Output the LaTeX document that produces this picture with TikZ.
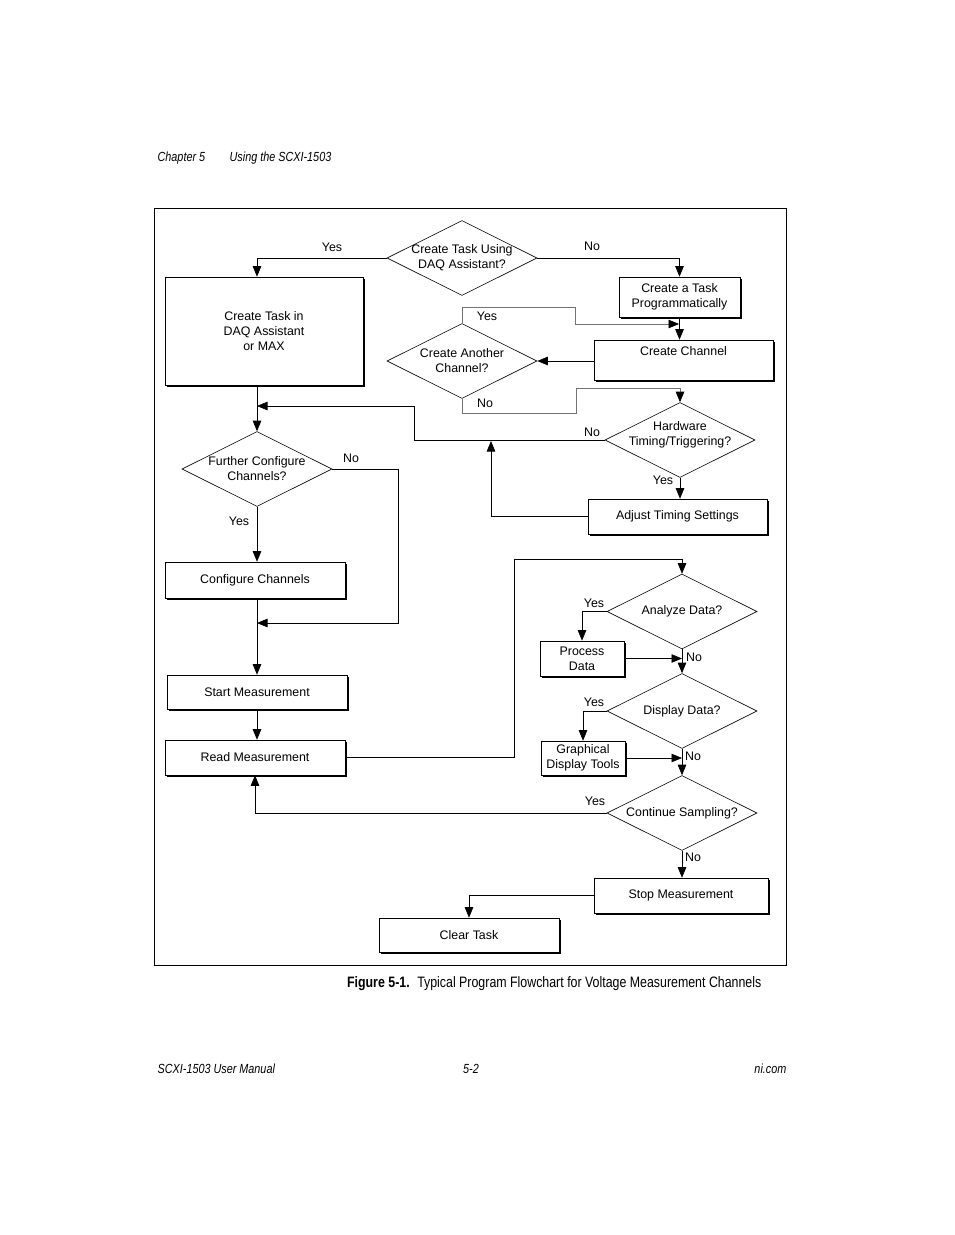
\documentclass[tikz,border=0pt]{standalone}
\usepackage{fontspec}
\setmainfont{Liberation Sans}
\newfontfamily\condfont[FakeStretch=0.82]{Liberation Sans}
\usetikzlibrary{arrows.meta,positioning,calc,shapes.geometric,shadows}

\begin{document}
\begin{tikzpicture}[x=1pt, y=-1pt, line width=0.6pt,
    box/.style={draw, fill=white, align=center, font=\fontsize{12.4}{15}\selectfont,
        general shadow={fill=black, shadow xshift=1.8pt, shadow yshift=-1.8pt}},
    decision/.style={draw, diamond, fill=white, minimum width=150pt, minimum height=75pt, inner sep=0pt},
    dtext/.style={align=center, font=\fontsize{12.4}{15}\selectfont},
    ans/.style={font=\fontsize{12.4}{15}\selectfont, inner sep=1pt},
    pagetext/.style={font=\condfont\itshape\fontsize{13.2}{15}\selectfont},
    flow/.style={-{Triangle[length=10.5pt,width=8.5pt,color=black]}},
    loop/.style={draw=black!55}]
    \useasboundingbox (0,0) rectangle (954,1235);

    % page header, frame, caption and footer
    \node[anchor=base west, pagetext] (chap) at (154,161) {Chapter 5};
    \node[anchor=base west, pagetext] (chaptitle) at (226,161) {Using the SCXI-1503};
    \draw (154,208) rectangle (786,965);
    \node[anchor=base east, font=\condfont\fontsize{15.1}{17}\selectfont] (caption) at (765,987)
        {\textbf{Figure 5-1.}\enspace Typical Program Flowchart for Voltage Measurement Channels};
    \node[anchor=base west, pagetext] (manual) at (154,1073) {SCXI-1503 User Manual};
    \node[anchor=base, pagetext] (pagenum) at (471,1073) {5-2};
    \node[anchor=base east, pagetext] (site) at (790,1073) {ni.com};

    % task creation
    \node[decision, label={[dtext]center:Create Task Using\\DAQ Assistant?}] (usedaq) at (462,258) {};
    \node[box, minimum width=198pt, minimum height=108pt] (daqmax) at (264,331) {Create Task in\\DAQ Assistant\\or MAX};
    \node[box, minimum width=121pt, minimum height=40pt] (progtask) at (679.5,297) {Create a Task\\Programmatically};
    \node[box, minimum width=179pt, minimum height=40pt, text depth=18pt] (mkchan) at (683.5,360) {Create Channel};
    \node[decision, label={[dtext]center:Create Another\\Channel?}] (another) at (462,361) {};
    \node[decision, label={[dtext, yshift=5pt]center:Hardware\\Timing/Triggering?}] (hwtime) at (680,440) {};
    \node[box, minimum width=179pt, minimum height=35pt] (adjtime) at (677.5,516.5) {Adjust Timing Settings};

    % channel configuration and measurement
    \node[decision, label={[dtext]center:Further Configure\\Channels?}] (further) at (257,469) {};
    \node[box, minimum width=180pt, minimum height=36pt] (cfgchan) at (255,580) {Configure Channels};
    \node[box, minimum width=180pt, minimum height=34pt] (startm) at (257,692) {Start Measurement};
    \node[box, minimum width=180pt, minimum height=35pt] (readm) at (255,757.5) {Read Measurement};

    % data handling
    \node[decision, label={[dtext]center:Analyze Data?}] (analyze) at (682,611.5) {};
    \node[box, minimum width=84pt, minimum height=35pt] (procdata) at (582,658.5) {Process\\Data};
    \node[decision, label={[dtext]center:Display Data?}] (display) at (682,711) {};
    \node[box, minimum width=84pt, minimum height=34pt] (graphtools) at (583,758) {Graphical\\Display Tools};
    \node[decision, label={[dtext]center:Continue Sampling?}] (contsamp) at (682,813) {};
    \node[box, minimum width=174pt, minimum height=35pt] (stopm) at (681,895.5) {Stop Measurement};
    \node[box, minimum width=180pt, minimum height=34pt] (cleartask) at (469,935) {Clear Task};

    % join points on lines
    \coordinate (joinA) at (679,324);
    \coordinate (joinB) at (257,406);
    \coordinate (joinC) at (491,441);
    \coordinate (joinD) at (257,623);

    % connectors
    \draw[flow] (usedaq.west) -| (further.north |- daqmax.north);
    \node[ans] (yes1) at (332,247) {Yes};
    \draw[flow] (usedaq.east) -| (progtask.north);
    \node[ans] (no1) at (592,246) {No};
    \draw[flow] (progtask.south) -- (progtask.south |- mkchan.north);
    \draw[flow] (another.east -| mkchan.west) -- (another.east);
    \draw[loop, flow] (another.north) |- (575,307) |- (joinA);
    \node[ans] (yes2) at (487,316) {Yes};
    \draw[loop, flow] (another.south) -- ++(0,14) -| (576,388) -| (hwtime.north);
    \node[ans] (no2) at (485,403) {No};
    \draw[flow] (hwtime.west) -| (414,406) -- (joinB);
    \node[ans] (no3) at (592,432) {No};
    \draw[flow] (hwtime.south) -- (hwtime.south |- adjtime.north);
    \node[ans] (yes3) at (663,480) {Yes};
    \draw[flow] (adjtime.west) -| (joinC);

    \draw[flow] (daqmax.south -| further.north) -- (further.north);
    \draw[flow] (further.east) -| (398,623) -- (joinD);
    \node[ans] (no4) at (351,458) {No};
    \draw[flow] (further.south) -- (further.south |- cfgchan.north);
    \node[ans] (yes4) at (239,521) {Yes};
    \draw[flow] (further.south |- cfgchan.south) -- (further.south |- startm.north);
    \draw[flow] (startm.south) -- (startm.south |- readm.north);

    \draw[flow] (readm.east) -| (514,559) -| (analyze.north);
    \draw[flow] (analyze.west) -| (procdata.north);
    \node[ans] (yes5) at (594,603) {Yes};
    \draw[flow] (procdata.east) -- (procdata.east -| analyze.south);
    \node[ans] (no5) at (694,657) {No};
    \draw[flow] (analyze.south) -- (display.north);
    \draw[flow] (display.west) -| (graphtools.north);
    \node[ans] (yes6) at (594,702) {Yes};
    \draw[flow] (graphtools.east) -- (graphtools.east -| display.south);
    \node[ans] (no6) at (693,756) {No};
    \draw[flow] (display.south) -- (contsamp.north);
    \draw[flow] (contsamp.west) -| (readm.south);
    \node[ans] (yes7) at (595,801) {Yes};
    \draw[flow] (contsamp.south) -- (contsamp.south |- stopm.north);
    \node[ans] (no7) at (693,857) {No};
    \draw[flow] (stopm.west) -| (cleartask.north);
\end{tikzpicture}
\end{document}
